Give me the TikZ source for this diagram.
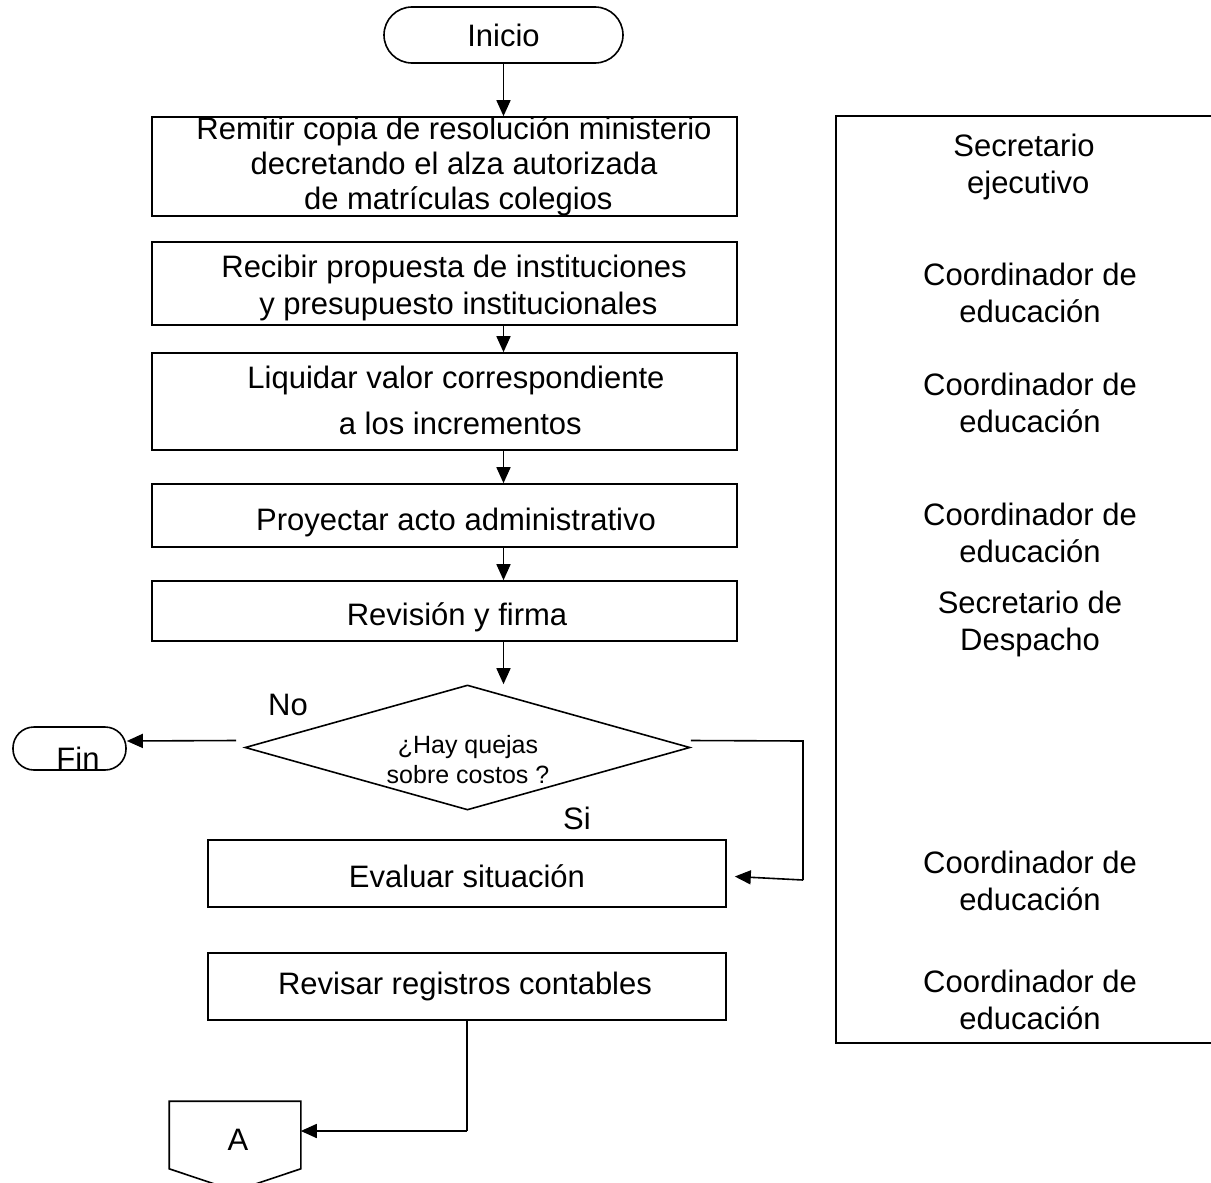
\documentclass[tikz,border=0pt]{standalone}
\usepackage{fontspec}
\setmainfont{Liberation Sans}
\usetikzlibrary{shapes.geometric,arrows.meta,calc}
\begin{document}
\begin{tikzpicture}[x=1pt,y=-1pt,
  every path/.style={line width=1.6pt},
  procbox/.style={draw,line width=1.6pt,rectangle,inner sep=0pt},
  txt/.style={align=center,inner sep=0pt,font=\fontsize{31}{37}\selectfont},
  smalltxt/.style={align=center,inner sep=0pt,font=\fontsize{25}{30}\selectfont},
  arr/.style={line width=1.6pt,-{Triangle[length=16pt,width=14pt]}},
  ln/.style={line width=1.6pt}]
\useasboundingbox (0,0) rectangle (1211,1183);
% start
\node[procbox,rounded corners=28pt,minimum width=239pt,minimum height=56pt] (ini) at (503.5,35) {};
\node[txt] (tini) at (503.5,35) {Inicio};
% boxes
\node[procbox,minimum width=585pt,minimum height=99pt] (b1) at (444.5,166.5) {};
\node[txt,font=\fontsize{31}{35}\selectfont] (t1) at (454,166) {Remitir copia de resolución ministerio\\decretando el alza autorizada\\\ de matrículas colegios};
\node[procbox,minimum width=585pt,minimum height=83pt] (b2) at (444.5,283.5) {};
\node[txt] (t2) at (454,288) {Recibir propuesta de instituciones\\\ y presupuesto institucionales};
\node[procbox,minimum width=585pt,minimum height=97pt] (b3) at (444.5,401.5) {};
\node[txt] (t3) at (456,400) {Liquidar valor correspondiente\\[9pt]\ a los incrementos};
\node[procbox,minimum width=585pt,minimum height=63pt] (b4) at (444.5,515.5) {};
\node[txt] (t4) at (456,522) {Proyectar acto administrativo};
\node[procbox,minimum width=585pt,minimum height=60pt] (b5) at (444.5,611) {};
\node[txt] (t5) at (457,617) {Revisión y firma};
% decision
\node[draw,diamond,line width=1.6pt,minimum width=445pt,minimum height=125pt,inner sep=0pt] (dia) at (467.5,747.5) {};
\node[smalltxt] (tdia) at (468,760) {¿Hay quejas\\sobre costos ?};
\node[txt] (no) at (288,705) {No};
\node[txt] (si) at (577,818) {Si};
% end
\node[procbox,rounded corners=21pt,minimum width=113pt,minimum height=43pt] (fin) at (69.5,748.5) {};
\node[txt] (tfin) at (78,758) {Fin};
% evaluar / revisar
\node[procbox,minimum width=518pt,minimum height=67pt] (ev) at (467,873.5) {};
\node[txt] (tev) at (467,876) {Evaluar situación};
\node[procbox,minimum width=518pt,minimum height=67pt] (rv) at (467,986.5) {};
\node[txt] (trv) at (465,986) {Revisar registros contables};
% off-page connector
\node[inner sep=0pt,minimum width=130pt,minimum height=66pt] (A) at (235,1135) {};
\draw[ln] (A.north west) -- (A.north east) -- (A.south east) -- ($(A.south)+(0,22)$) -- (A.south west) -- cycle;
\node[txt] (tA) at (238,1140) {A};
% roles frame
\node[procbox,minimum width=376pt,minimum height=927pt] (roles) at (1024,579.5) {};
\node[txt] (r1) at (1024,167) {Secretario\\\ ejecutivo};
\node[txt] (r2) at (1030,292.5) {Coordinador de\\educación};
\node[txt] (r3) at (1030,402.5) {Coordinador de\\educación};
\node[txt] (r4) at (1030,532.5) {Coordinador de\\educación};
\node[txt] (r5) at (1030,624) {Secretario de\\Despacho};
\node[txt] (r6) at (1030,880.5) {Coordinador de\\educación};
\node[txt] (r7) at (1030,1000) {Coordinador de\\educación};
% connectors
\draw[arr] (ini.south) -- (ini.south |- b1.north);
\draw[arr] (ini.south |- b2.south) -- (ini.south |- b3.north);
\draw[arr] (ini.south |- b3.south) -- (ini.south |- b4.north);
\draw[arr] (ini.south |- b4.south) -- (ini.south |- b5.north);
\draw[arr] (ini.south |- b5.south) -- (ini.south |- dia.north);
\draw[arr] ($(dia.west)+(-8,-7)$) -- (fin.east |- 0,741);
\draw[ln] ($(dia.east)+(0,-7)$) -- (803,741) -- (803,880);
\draw[arr] (803,880) -- ($(ev.east)+(8,3)$);
\draw[ln] (rv.south) -- (rv.south |- 0,1131);
\draw[arr] (rv.south |- 0,1131) -- (A.east |- 0,1131);
\end{tikzpicture}
\end{document}
